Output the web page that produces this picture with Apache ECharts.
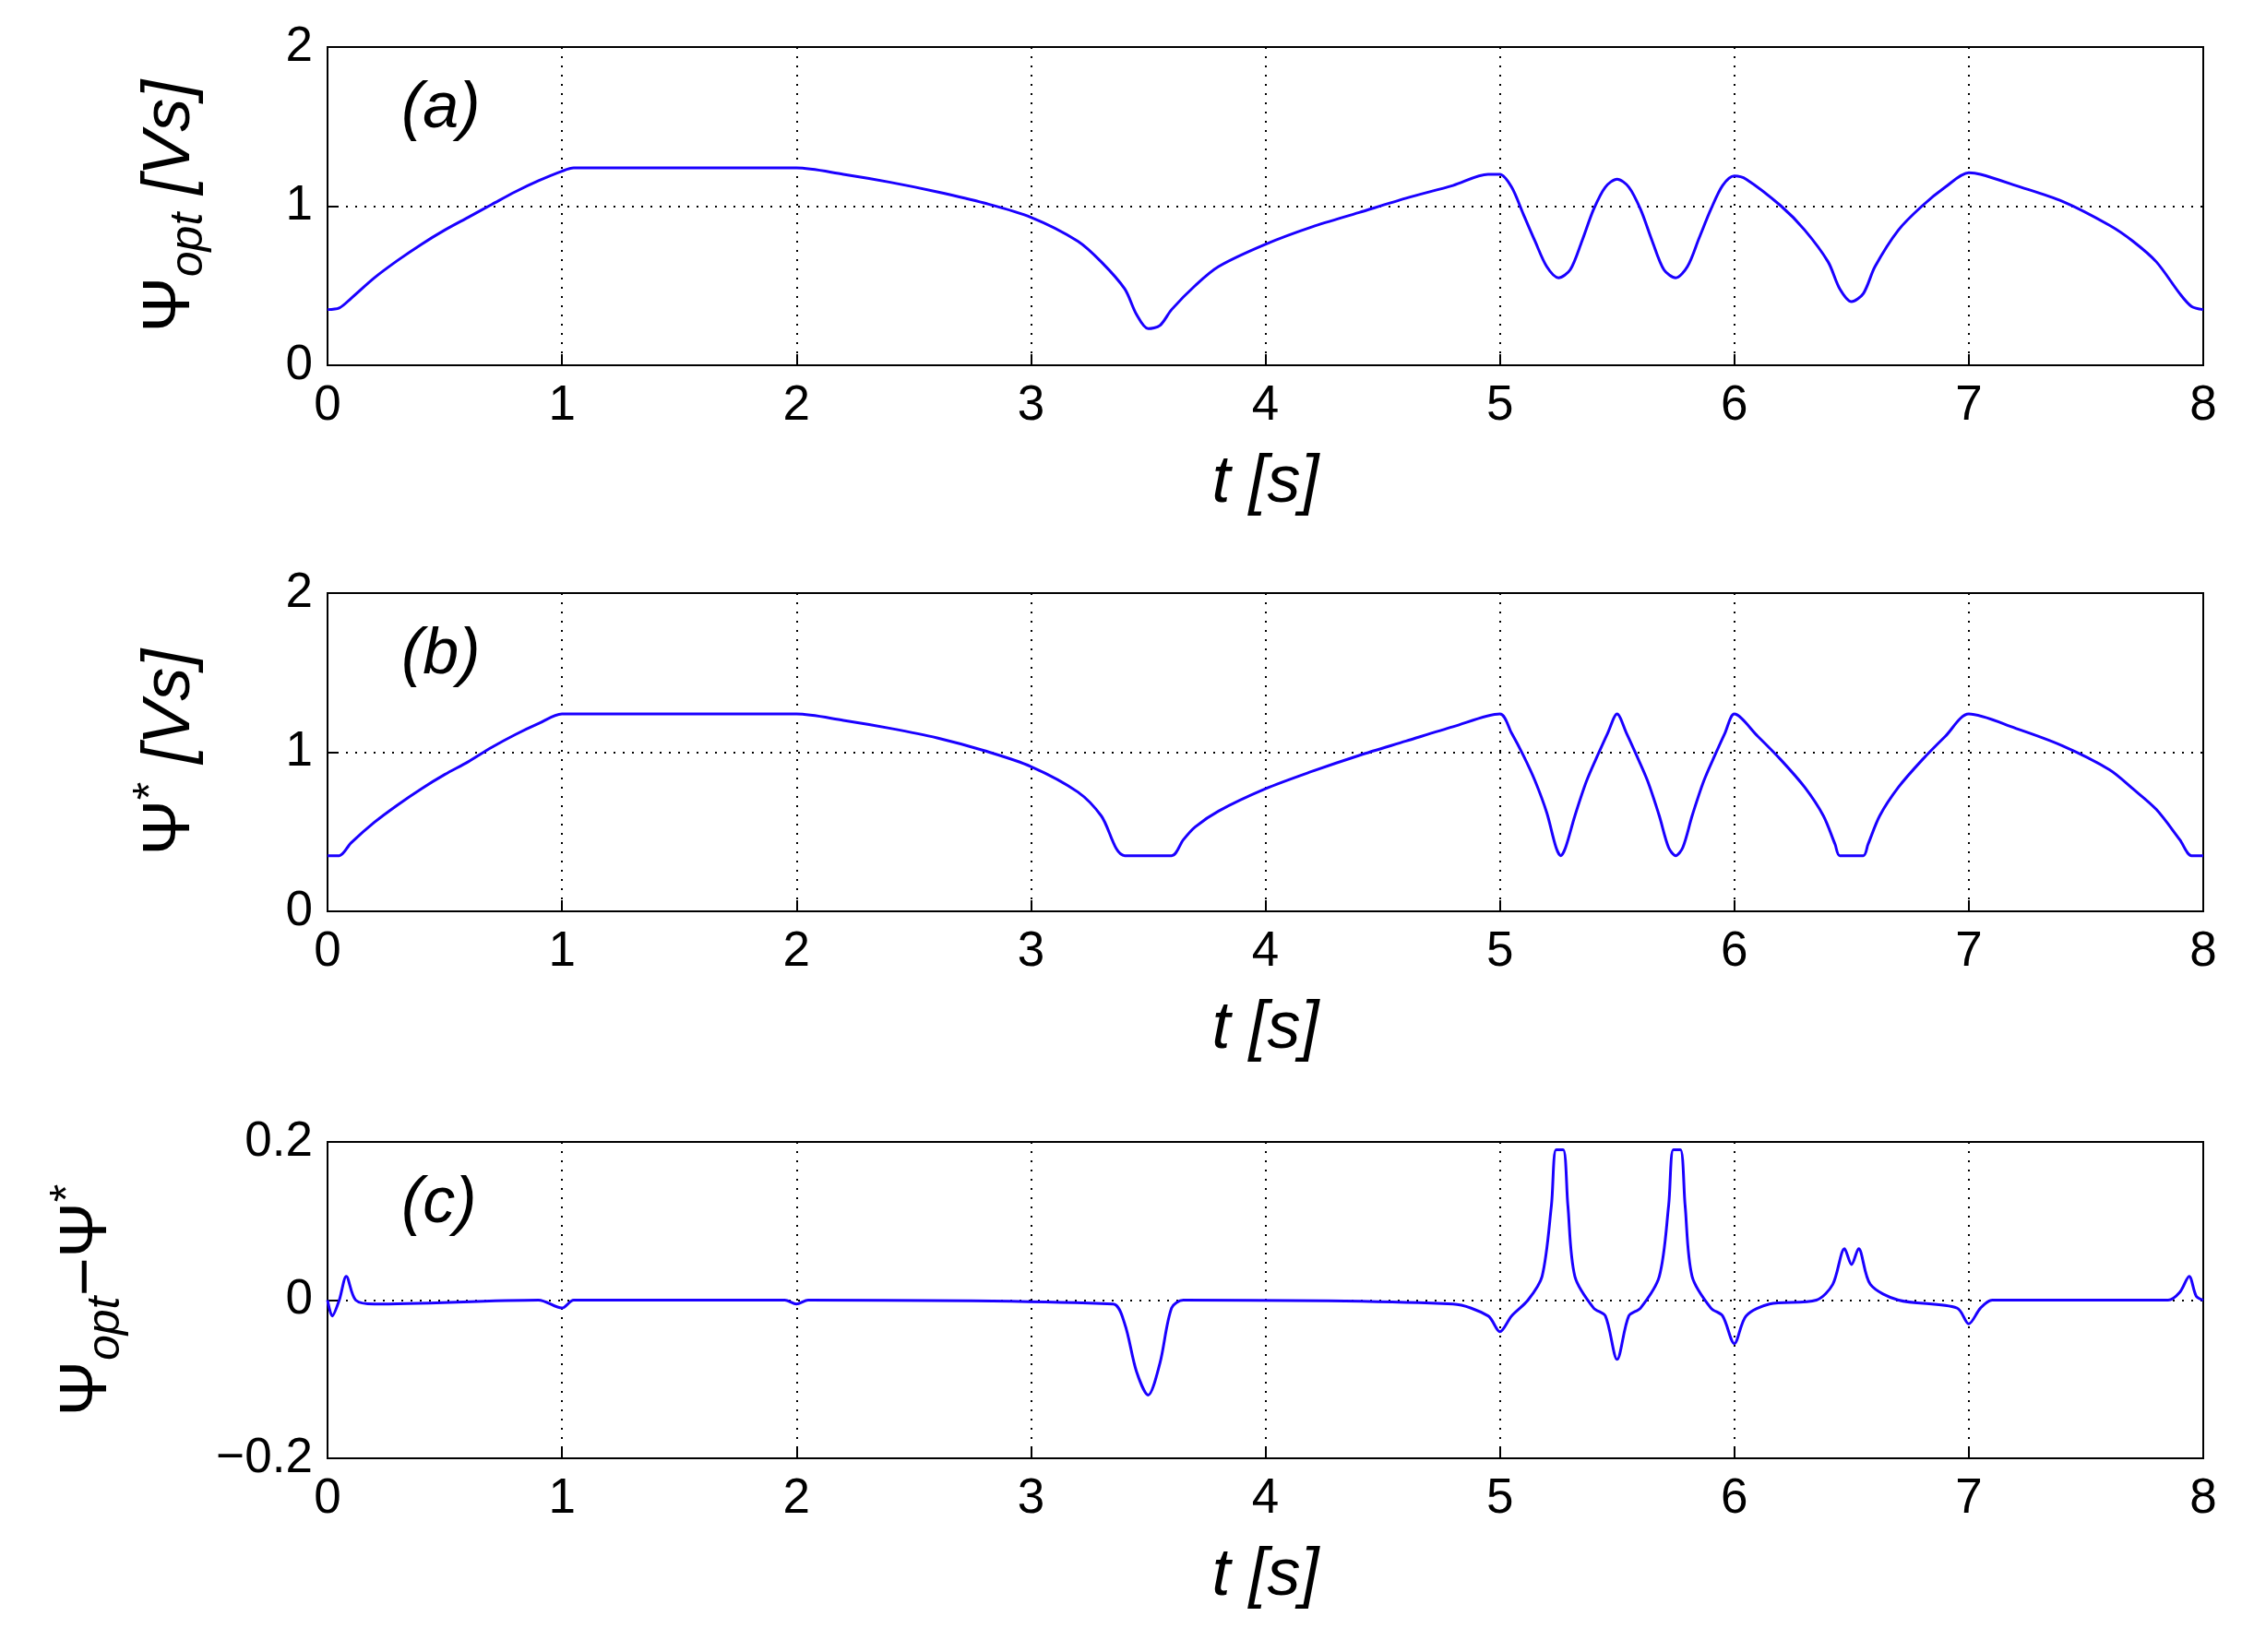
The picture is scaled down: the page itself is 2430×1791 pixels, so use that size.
<!DOCTYPE html>
<html>
<head>
<meta charset="utf-8">
<title>psi</title>
<style>body{margin:0;overflow:hidden;background:#fff}</style>
</head>
<body>
<div id="chart-container" style="width:2430px;height:1791px;"></div>
<script src="https://cdn.jsdelivr.net/npm/echarts@6/dist/echarts.min.js"></script>
<script>
// time axis ticks
var xTicks = [0, 1, 2, 3, 4, 5, 6, 7, 8];

// (a) psi_opt [t, value]
var psiOpt = [[0,0.35],[0.05,0.36],[0.1,0.42],[0.2,0.55],[0.3,0.66],[0.4,0.76],[0.5,0.85],[0.6,0.93],[0.7,1.01],[0.8,1.09],[0.9,1.16],[1.0,1.22],[1.05,1.24],[2.0,1.24],[2.2,1.20],[2.4,1.15],[2.6,1.09],[2.8,1.02],[3.0,0.93],[3.2,0.78],[3.3,0.65],[3.4,0.48],[3.45,0.32],[3.5,0.23],[3.55,0.25],[3.6,0.35],[3.7,0.50],[3.8,0.62],[4.0,0.76],[4.2,0.87],[4.4,0.96],[4.6,1.05],[4.8,1.13],[4.95,1.20],[5.0,1.20],[5.05,1.12],[5.1,0.95],[5.15,0.78],[5.2,0.62],[5.25,0.55],[5.3,0.60],[5.35,0.78],[5.4,0.98],[5.45,1.12],[5.5,1.17],[5.55,1.12],[5.6,0.98],[5.65,0.78],[5.7,0.60],[5.75,0.55],[5.8,0.62],[5.85,0.80],[5.9,0.98],[5.95,1.13],[6.0,1.19],[6.05,1.17],[6.2,1.00],[6.3,0.85],[6.4,0.65],[6.45,0.48],[6.5,0.40],[6.55,0.45],[6.6,0.62],[6.7,0.85],[6.8,1.00],[6.9,1.12],[7.0,1.21],[7.05,1.20],[7.2,1.13],[7.4,1.03],[7.6,0.88],[7.7,0.78],[7.8,0.65],[7.9,0.45],[7.95,0.37],[8.0,0.35]];

// (b) psi* [t, value]
var psiRef = [[0,0.35],[0.05,0.35],[0.1,0.43],[0.2,0.56],[0.3,0.67],[0.4,0.77],[0.5,0.86],[0.6,0.94],[0.7,1.03],[0.8,1.11],[0.9,1.18],[1.0,1.24],[2.0,1.24],[2.2,1.20],[2.4,1.15],[2.6,1.09],[2.8,1.01],[3.0,0.91],[3.2,0.75],[3.3,0.60],[3.4,0.35],[3.6,0.35],[3.65,0.45],[3.7,0.53],[3.8,0.63],[4.0,0.77],[4.2,0.88],[4.4,0.98],[4.6,1.07],[4.8,1.16],[5.0,1.24],[5.05,1.12],[5.1,0.98],[5.15,0.82],[5.2,0.62],[5.24,0.40],[5.26,0.35],[5.28,0.40],[5.32,0.60],[5.37,0.82],[5.42,0.99],[5.46,1.12],[5.5,1.24],[5.54,1.12],[5.58,0.99],[5.63,0.82],[5.68,0.60],[5.72,0.40],[5.75,0.35],[5.78,0.40],[5.82,0.60],[5.87,0.82],[5.92,0.99],[5.96,1.12],[6.0,1.24],[6.1,1.10],[6.2,0.95],[6.3,0.78],[6.38,0.60],[6.43,0.42],[6.45,0.35],[6.55,0.35],[6.57,0.42],[6.62,0.60],[6.7,0.78],[6.8,0.95],[6.9,1.10],[7.0,1.24],[7.2,1.15],[7.4,1.04],[7.6,0.89],[7.7,0.77],[7.8,0.64],[7.9,0.45],[7.95,0.35],[8.0,0.35]];

// (c) psi_opt - psi* [t, value]
var psiDiff = [[0,0],[0.02,-0.02],[0.05,0],[0.08,0.03],[0.12,0],[0.2,-0.005],[0.9,0],[1.0,-0.01],[1.05,0],[1.95,0],[2.0,-0.005],[2.05,0],[3.35,-0.005],[3.4,-0.03],[3.45,-0.09],[3.5,-0.12],[3.55,-0.08],[3.6,-0.01],[3.65,0],[4.8,-0.005],[4.95,-0.02],[5.0,-0.04],[5.05,-0.02],[5.12,0],[5.18,0.03],[5.22,0.12],[5.24,0.19],[5.27,0.19],[5.29,0.12],[5.32,0.03],[5.4,-0.01],[5.45,-0.02],[5.5,-0.075],[5.55,-0.02],[5.6,-0.01],[5.68,0.03],[5.72,0.12],[5.74,0.19],[5.77,0.19],[5.79,0.12],[5.82,0.03],[5.9,-0.01],[5.95,-0.02],[6.0,-0.055],[6.05,-0.02],[6.15,-0.005],[6.35,0],[6.42,0.02],[6.47,0.065],[6.5,0.045],[6.53,0.065],[6.58,0.02],[6.7,0],[6.95,-0.01],[7.0,-0.03],[7.05,-0.01],[7.1,0],[7.85,0],[7.9,0.01],[7.94,0.03],[7.97,0.005],[8.0,0]];

var panelLabels = ['(a)', '(b)', '(c)'];

var font = 'Liberation Sans, Arial, sans-serif';
var dotted = { show: true, lineStyle: { color: '#000', type: [2, 8], width: 2 } };

function xAx(i) {
  return {
    type: 'value', gridIndex: i, min: 0, max: 8, interval: 1,
    name: 't [s]', nameLocation: 'middle', nameGap: 92,
    nameTextStyle: { fontFamily: font, fontSize: 72, fontStyle: 'italic', color: '#000' },
    axisLine: { onZero: false, lineStyle: { color: '#000', width: 2 } },
    axisTick: { inside: true, length: 12, lineStyle: { color: '#000', width: 2 } },
    axisLabel: { fontFamily: font, fontSize: 53, color: '#000', margin: 18 },
    splitLine: dotted
  };
}
function yAx(i, min, max, interval, name, gap) {
  return {
    type: 'value', gridIndex: i, min: min, max: max, interval: interval,
    name: name, nameLocation: 'middle', nameGap: gap, nameRotate: 90,
    nameTextStyle: { fontFamily: font, fontSize: 68, color: '#000', rich: rich },
    axisLine: { onZero: false, lineStyle: { color: '#000', width: 2 } },
    axisTick: { inside: true, length: 12, lineStyle: { color: '#000', width: 2 } },
    axisLabel: { fontFamily: font, fontSize: 53, color: '#000', margin: 16,
      formatter: function (v) { return String(v).replace('-', '−'); } },
    splitLine: dotted
  };
}
var rich = {
  a: { fontFamily: font, fontSize: 72, fontStyle: 'italic', color: '#000' },
  n: { fontFamily: font, fontSize: 72, color: '#000' },
  s: { fontFamily: font, fontSize: 50, fontStyle: 'italic', color: '#000', padding: [40, 0, 0, 0] },
  p: { fontFamily: font, fontSize: 50, color: '#000', padding: [0, 0, 40, 0] }
};

var grids = [
  { left: 355, right: 42, top: 51, height: 345 },
  { left: 355, right: 42, top: 643, height: 345 },
  { left: 355, right: 42, top: 1238, height: 343 }
];

var option = {
  animation: false,
  backgroundColor: '#fff',
  grid: grids.map(function (g) { return Object.assign({ show: true, borderColor: '#000', borderWidth: 2 }, g); }),
  xAxis: [xAx(0), xAx(1), xAx(2)],
  yAxis: [
    yAx(0, 0, 2, 1, '{n|Ψ}{s|opt}{a| [Vs]}', 125),
    yAx(1, 0, 2, 1, '{n|Ψ}{p|*}{a| [Vs]}', 125),
    yAx(2, -0.2, 0.2, 0.2, '{n|Ψ}{s|opt}{n|−Ψ}{p|*}', 215)
  ],
  title: panelLabels.map(function (t, i) {
    return { text: t, left: 430, top: grids[i].top + 28, textStyle: { fontFamily: font, fontSize: 70, fontStyle: 'italic', fontWeight: 'normal', color: '#000' } };
  }),
  series: [psiOpt, psiRef, psiDiff].map(function (d, i) {
    return { type: 'line', xAxisIndex: i, yAxisIndex: i, data: d, showSymbol: false, smooth: 0.3,
      lineStyle: { color: '#1a00ff', width: 3 } };
  })
};

var chart = echarts.init(document.getElementById('chart-container'));
chart.setOption(option);
</script>
</body>
</html>
